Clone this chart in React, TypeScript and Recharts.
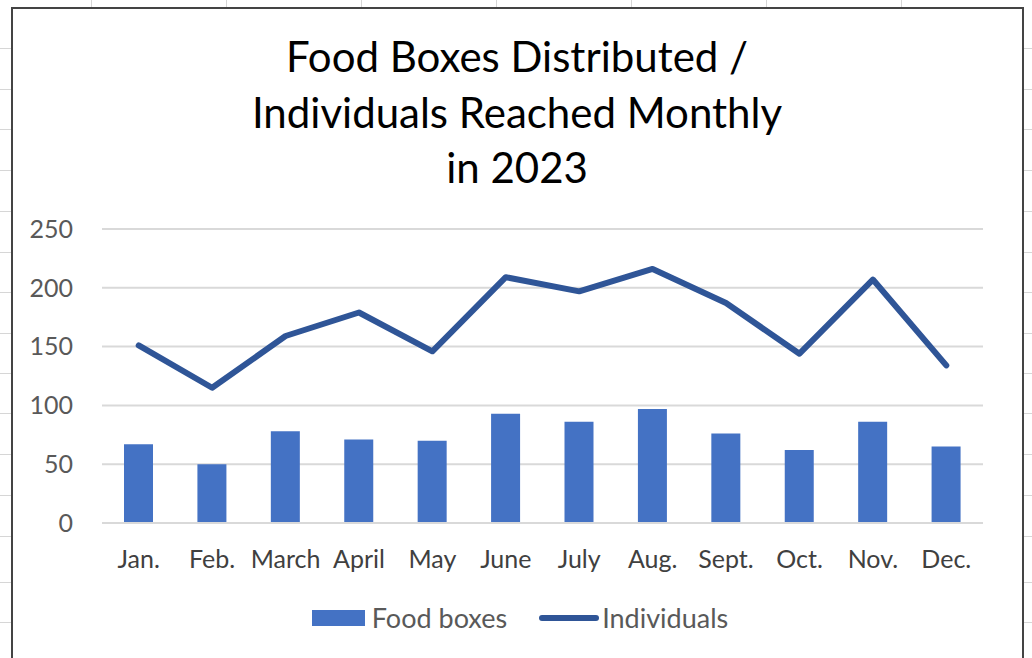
import { ComposedChart, Bar, Line, XAxis, YAxis, CartesianGrid, Legend } from 'recharts';

const months = ['Jan.', 'Feb.', 'March', 'April', 'May', 'June', 'July', 'Aug.', 'Sept.', 'Oct.', 'Nov.', 'Dec.'];
const foodBoxes = [67, 50, 78, 71, 70, 93, 86, 97, 76, 62, 86, 65];
const individuals = [151, 115, 159, 179, 146, 209, 197, 216, 187, 144, 207, 134];
const yTicks = [0, 50, 100, 150, 200, 250];
const titleLines = ['Food Boxes Distributed /', 'Individuals Reached Monthly', 'in 2023'];

const data = months.map((m, i) => ({ month: m, boxes: foodBoxes[i], people: individuals[i] }));

const FONT = 'Lato, "Open Sans", sans-serif';
const BAR_COLOR = '#4472C4';
const LINE_COLOR = '#2F5597';

// spreadsheet cell lines peeking out around the chart object
const rowLines = [48, 89, 129, 170, 211, 252, 292, 333, 373, 413, 454, 495, 536, 582, 622];
const colLines = [91, 226, 361, 496, 631, 766, 901];

const renderLegend = () => (
  <div style={{ display: 'flex', justifyContent: 'center', alignItems: 'center', fontFamily: FONT, fontSize: 27, color: '#595959' }}>
    <span style={{ display: 'inline-block', width: 53, height: 16, background: BAR_COLOR, marginRight: 7 }} />
    <span style={{ marginRight: 32 }}>Food boxes</span>
    <span style={{ display: 'inline-block', width: 60, height: 6, borderRadius: 3, background: LINE_COLOR, marginRight: 3 }} />
    <span>Individuals</span>
  </div>
);

export default function App() {
  return (
    <div style={{ position: 'absolute', left: 0, top: 0, width: 1032, height: 658, overflow: 'hidden', background: '#fff' }}>
      {rowLines.map((y) => (
        <div key={'l' + y}>
          <div style={{ position: 'absolute', left: 0, top: y, width: 11, height: 1, background: '#d6d6d6' }} />
          <div style={{ position: 'absolute', left: 1024, top: y, width: 8, height: 1, background: '#d6d6d6' }} />
        </div>
      ))}
      {colLines.map((x) => (
        <div key={'c' + x} style={{ position: 'absolute', left: x, top: 0, width: 1, height: 7, background: '#d6d6d6' }} />
      ))}
      <div style={{ position: 'absolute', left: 11, top: 7, width: 1009, height: 680, border: '2px solid #444', boxSizing: 'content-box' }} />

      <div style={{ position: 'absolute', left: 0, top: 29, width: 1034, textAlign: 'center', fontFamily: FONT, fontSize: 42, lineHeight: '55.5px', color: '#000' }}>
        {titleLines.map((t) => (
          <div key={t}>{t}</div>
        ))}
      </div>

      <div style={{ position: 'absolute', left: 0, top: 0 }}>
        <ComposedChart width={1032} height={658} data={data} margin={{ top: 229, right: 49, bottom: 0, left: 0 }} barSize={29}>
          <CartesianGrid vertical={false} stroke="#D9D9D9" strokeWidth={2} />
          <XAxis
            dataKey="month"
            axisLine={{ stroke: '#D9D9D9', strokeWidth: 2 }}
            tickLine={false}
            tickSize={0}
            tickMargin={27}
            interval={0}
            height={135}
            tick={{ fill: '#404040', fontSize: 25, fontFamily: FONT }}
          />
          <YAxis
            domain={[0, 250]}
            ticks={yTicks}
            interval={0}
            axisLine={false}
            tickLine={false}
            tickSize={0}
            tickMargin={29}
            width={102}
            tick={{ fill: '#595959', fontSize: 25, fontFamily: FONT }}
          />
          <Legend verticalAlign="middle" align="center" layout="horizontal" content={renderLegend} wrapperStyle={{ top: 601, left: 0, width: 1040 }} />
          <Bar dataKey="boxes" name="Food boxes" fill={BAR_COLOR} isAnimationActive={false} />
          <Line
            dataKey="people"
            name="Individuals"
            type="linear"
            stroke={LINE_COLOR}
            strokeWidth={6}
            strokeLinecap="round"
            strokeLinejoin="round"
            dot={false}
            activeDot={false}
            isAnimationActive={false}
          />
        </ComposedChart>
      </div>
    </div>
  );
}
